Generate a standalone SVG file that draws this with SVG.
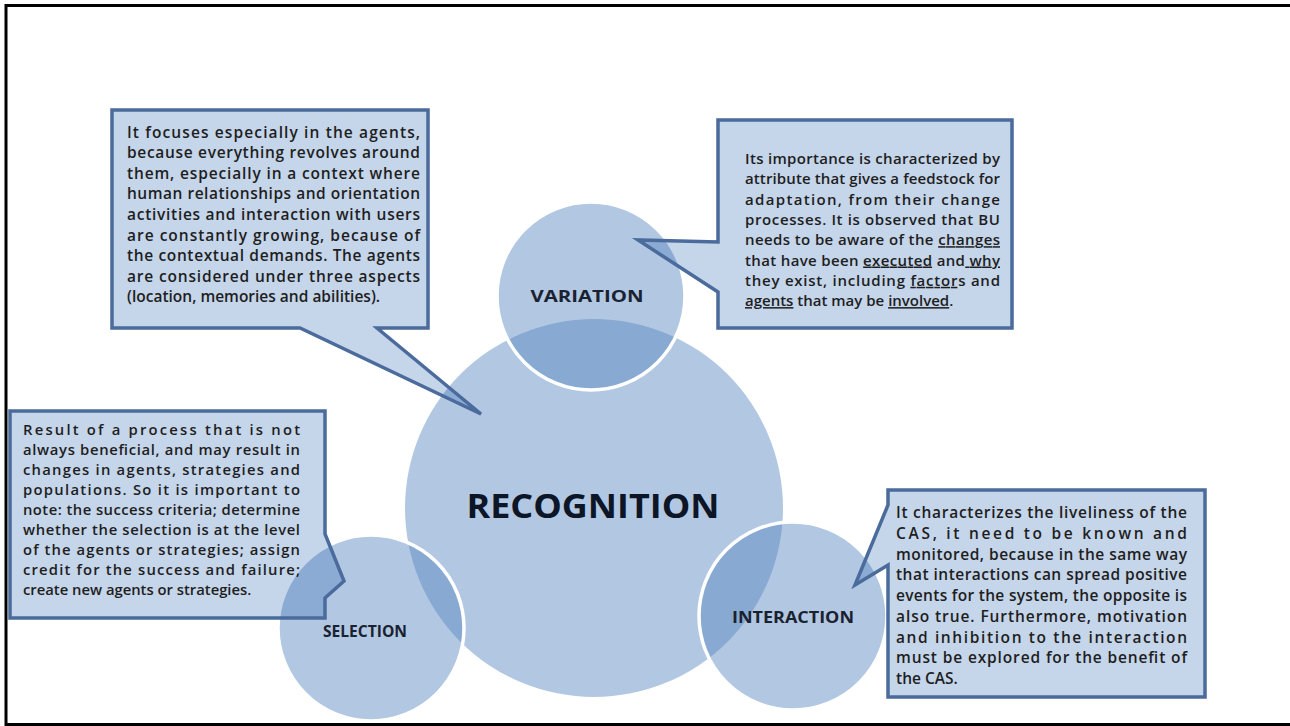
<svg xmlns="http://www.w3.org/2000/svg" width="1290" height="726" viewBox="0 0 1290 726">
<style>
.bg{fill:#ffffff}
.frame{fill:none;stroke:#000;stroke-width:3}
.circ{fill:rgb(88,134,192);fill-opacity:0.46}
.sub{fill:rgb(88,134,192);fill-opacity:0.46;stroke:#ffffff;stroke-width:3.5}
.call{fill:rgb(23,87,171);fill-opacity:0.25;stroke:#4a6b9b;stroke-width:3.5;stroke-linejoin:miter}
.t{font-family:"Open Sans","Liberation Sans",sans-serif;font-weight:600;font-size:15.5px;fill:#1e1e1e}
.s3{font-size:14.8px}
.s2{font-size:15px}
.lbl{font-family:"Open Sans","Liberation Sans",sans-serif;font-weight:700;font-size:16px;fill:#1a2230;text-anchor:middle}
.big{font-family:"Open Sans","Liberation Sans",sans-serif;font-weight:700;font-size:34px;fill:#0c1626;text-anchor:middle}
.u{text-decoration:underline}
</style>
<rect class="bg" x="0" y="0" width="1290" height="726"/>
<path class="frame" d="M6,726 V5.5 H1290"/>
<path class="frame" d="M6,724.5 H1290"/>

<g id="recognition">
<circle class="circ" cx="594" cy="508" r="189"/>
<text class="big" x="593" y="518" textLength="253" lengthAdjust="spacingAndGlyphs">RECOGNITION</text>
</g>

<g id="variation">
<circle class="sub" cx="591" cy="296" r="94"/>
<text class="lbl" x="587" y="302" textLength="113" lengthAdjust="spacingAndGlyphs">VARIATION</text>
</g>

<g id="selection">
<circle class="sub" cx="371" cy="628" r="93"/>
<text class="lbl" x="365" y="637" textLength="84" lengthAdjust="spacingAndGlyphs">SELECTION</text>
</g>

<g id="interaction">
<circle class="sub" cx="793" cy="616" r="94"/>
<text class="lbl" x="793" y="623" textLength="122" lengthAdjust="spacingAndGlyphs">INTERACTION</text>
</g>

<g id="connectors">
<path class="call" d="M112,110 H428 V328 H377 L481,414 L300,328 H112 Z"/>
<path class="call" d="M718,120 H1012 V328 H718 V292 L638,240 L718,242 Z"/>
<path class="call" d="M10,411 H325 V534 L344,581 L325,598 V618 H10 Z"/>
<path class="call" d="M888,490 H1205 V697 H888 V565 L855,585 L888,505 Z"/>
</g>

<g id="note-agents">
<text class="t" x="127" y="137.5" textLength="293" lengthAdjust="spacing">It focuses especially in the agents,</text>
<text class="t" x="127" y="158.1" textLength="293" lengthAdjust="spacing">because everything revolves around</text>
<text class="t" x="127" y="178.7" textLength="293" lengthAdjust="spacing">them, especially in a context where</text>
<text class="t" x="127" y="199.3" textLength="293" lengthAdjust="spacing">human relationships and orientation</text>
<text class="t" x="127" y="219.9" textLength="293" lengthAdjust="spacing">activities and interaction with users</text>
<text class="t" x="127" y="240.5" textLength="293" lengthAdjust="spacing">are constantly growing, because of</text>
<text class="t" x="127" y="261.1" textLength="293" lengthAdjust="spacing">the contextual demands. The agents</text>
<text class="t" x="127" y="281.7" textLength="293" lengthAdjust="spacing">are considered under three aspects</text>
<text class="t" x="127" y="302.3">(location, memories and abilities).</text>
</g>

<g id="note-variation">
<text class="t s2" x="745" y="164" textLength="255" lengthAdjust="spacing">Its importance is characterized by</text>
<text class="t s2" x="745" y="184.3" textLength="255" lengthAdjust="spacing">attribute that gives a feedstock for</text>
<text class="t s2" x="745" y="204.6" textLength="255" lengthAdjust="spacing">adaptation, from their change</text>
<text class="t s2" x="745" y="224.9" textLength="255" lengthAdjust="spacing">processes. It is observed that BU</text>
<text class="t s2" x="745" y="245.2" textLength="255" lengthAdjust="spacing">needs to be aware of the <tspan class="u">changes</tspan></text>
<text class="t s2" x="745" y="265.5" textLength="255" lengthAdjust="spacing">that have been <tspan class="u">executed</tspan> and<tspan class="u"> why</tspan></text>
<text class="t s2" x="745" y="285.8" textLength="255" lengthAdjust="spacing">they exist, including <tspan class="u">factor</tspan>s and</text>
<text class="t s2" x="745" y="306.1"><tspan class="u">agents</tspan> that may be <tspan class="u">involved</tspan>.</text>
</g>

<g id="note-selection">
<text class="t s3" x="23" y="435" textLength="277" lengthAdjust="spacing">Result of a process that is not</text>
<text class="t s3" x="23" y="455" textLength="277" lengthAdjust="spacing">always beneficial, and may result in</text>
<text class="t s3" x="23" y="475" textLength="277" lengthAdjust="spacing">changes in agents, strategies and</text>
<text class="t s3" x="23" y="495" textLength="277" lengthAdjust="spacing">populations. So it is important to</text>
<text class="t s3" x="23" y="515" textLength="277" lengthAdjust="spacing">note: the success criteria; determine</text>
<text class="t s3" x="23" y="535" textLength="277" lengthAdjust="spacing">whether the selection is at the level</text>
<text class="t s3" x="23" y="555" textLength="277" lengthAdjust="spacing">of the agents or strategies; assign</text>
<text class="t s3" x="23" y="575" textLength="277" lengthAdjust="spacing">credit for the success and failure;</text>
<text class="t s3" x="23" y="595">create new agents or strategies.</text>
</g>

<g id="note-interaction">
<text class="t" x="896" y="518" textLength="291" lengthAdjust="spacing">It characterizes the liveliness of the</text>
<text class="t" x="896" y="538.75" textLength="291" lengthAdjust="spacing">CAS, it need to be known and</text>
<text class="t" x="896" y="559.5" textLength="291" lengthAdjust="spacing">monitored, because in the same way</text>
<text class="t" x="896" y="580.25" textLength="291" lengthAdjust="spacing">that interactions can spread positive</text>
<text class="t" x="896" y="601" textLength="291" lengthAdjust="spacing">events for the system, the opposite is</text>
<text class="t" x="896" y="621.75" textLength="291" lengthAdjust="spacing">also true. Furthermore, motivation</text>
<text class="t" x="896" y="642.5" textLength="291" lengthAdjust="spacing">and inhibition to the interaction</text>
<text class="t" x="896" y="663.25" textLength="291" lengthAdjust="spacing">must be explored for the benefit of</text>
<text class="t" x="896" y="684">the CAS.</text>
</g>
</svg>
